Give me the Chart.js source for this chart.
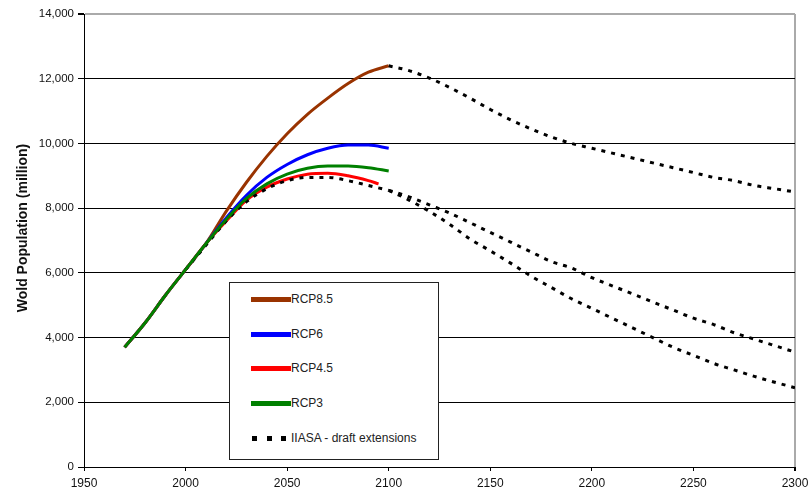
<!DOCTYPE html>
<html>
<head>
<meta charset="utf-8">
<script src="https://cdn.jsdelivr.net/npm/chart.js@4.4.1/dist/chart.umd.min.js"></script>
<style>
  html, body { margin: 0; padding: 0; background: #fff; }
  #wrap { position: relative; width: 810px; height: 490px; }
  #c { position: absolute; left: 0; top: 0; }
  #legend { position: absolute; left: 229px; top: 282px; width: 210px; height: 178px;
            border: 1px solid #222; background: #fff; box-sizing: border-box;
            font-family: 'Liberation Sans', Arial, sans-serif; font-size: 12px; color: #222; }
  .row { position: absolute; left: 0; height: 14px; width: 100%; }
  .sw { position: absolute; left: 21px; width: 40px; height: 5px; top: 5px; }
  .lbl { position: absolute; left: 61px; top: 0; line-height: 14px; white-space: nowrap; }
  .sq { position: absolute; top: 5px; width: 5px; height: 5px; background: #000; }
</style>
</head>
<body>
<div id="wrap">
  <canvas id="c" width="810" height="490"></canvas>
  <div id="legend"></div>
</div>
<script>
// ---- data ----
const rcpYears   = [1970, 1980, 1990, 2000, 2010, 2020, 2030, 2040, 2050, 2060, 2070, 2080, 2090, 2100];
const rcp85      = [3700, 4450, 5300, 6100, 6900, 7900, 8800, 9600, 10300, 10900, 11400, 11850, 12200, 12400];
const rcp6       = [3700, 4450, 5300, 6100, 6900, 7700, 8400, 8950, 9350, 9650, 9850, 9950, 9950, 9850];
const rcp3       = [3700, 4450, 5300, 6100, 6900, 7650, 8300, 8750, 9050, 9230, 9300, 9300, 9250, 9150];
const rcp45Years = [1970, 1980, 1990, 2000, 2010, 2020, 2030, 2040, 2050, 2060, 2070, 2080, 2090, 2095];
const rcp45      = [3700, 4450, 5300, 6100, 6900, 7600, 8250, 8650, 8900, 9050, 9080, 9000, 8850, 8750];

const iiasaBaseYears = [2000, 2010, 2020, 2030, 2040, 2050, 2060, 2070, 2080, 2090, 2100];
const iiasaBase      = [6100, 6850, 7600, 8200, 8600, 8850, 8950, 8950, 8850, 8700, 8550];

const extYears  = [2100, 2110, 2120, 2130, 2140, 2150, 2160, 2170, 2180, 2190, 2200,
                   2210, 2220, 2230, 2240, 2250, 2260, 2270, 2280, 2290, 2300];
const iiasaHigh = [12400, 12250, 12020, 11730, 11400, 11050, 10730, 10450, 10200, 10000, 9850,
                   9700, 9550, 9400, 9250, 9100, 8950, 8850, 8700, 8600, 8500];
const iiasaMid  = [8550, 8350, 8100, 7850, 7550, 7250, 6950, 6650, 6350, 6150, 5850,
                   5600, 5350, 5100, 4850, 4600, 4400, 4150, 3950, 3750, 3550];
const iiasaLow  = [8550, 8250, 7900, 7500, 7050, 6680, 6300, 5900, 5550, 5200, 4900,
                   4600, 4300, 4000, 3700, 3450, 3200, 3000, 2800, 2620, 2450];

const xTicks = [1950, 2000, 2050, 2100, 2150, 2200, 2250, 2300];
const yTicks = [0, 2000, 4000, 6000, 8000, 10000, 12000, 14000];
const yTitle = 'Wold Population (million)';

const legendItems = [
  { label: 'RCP8.5', color: '#993300' },
  { label: 'RCP6',   color: '#0000FF' },
  { label: 'RCP4.5', color: '#FF0000' },
  { label: 'RCP3',   color: '#008000' },
  { label: 'IIASA - draft extensions', color: '#000', dotted: true }
];

// ---- build ----
const pts = (xs, ys) => xs.map((x, i) => ({ x: x, y: ys[i] }));
const FONT = "'Liberation Sans', Arial, sans-serif";

function solid(label, xs, ys, color, order) {
  return { label, data: pts(xs, ys), borderColor: color, backgroundColor: color,
           borderWidth: 3, pointRadius: 0, cubicInterpolationMode: 'monotone', fill: false, order };
}
function dotted(label, xs, ys) {
  return { label, data: pts(xs, ys), borderColor: '#000', backgroundColor: '#000',
           borderWidth: 3, borderDash: [4, 6], borderCapStyle: 'butt', pointRadius: 0,
           cubicInterpolationMode: 'monotone', fill: false, order: 1 };
}

const datasets = [
  solid('RCP8.5', rcpYears, rcp85, '#993300', 4),
  solid('RCP6', rcpYears, rcp6, '#0000FF', 3),
  solid('RCP4.5', rcp45Years, rcp45, '#FF0000', 2),
  solid('RCP3', rcpYears, rcp3, '#008000', 0),
  dotted('IIASA - draft extensions', iiasaBaseYears, iiasaBase),
  dotted('IIASA high', extYears, iiasaHigh),
  dotted('IIASA mid', extYears, iiasaMid),
  dotted('IIASA low', extYears, iiasaLow)
];

// y-axis title drawn at the reference position
const yTitlePlugin = {
  id: 'yTitle',
  afterDraw(chart) {
    const ctx = chart.ctx;
    ctx.save();
    ctx.translate(23, 228);
    ctx.rotate(-Math.PI / 2);
    ctx.font = 'bold 14px ' + FONT;
    ctx.fillStyle = '#111';
    ctx.textAlign = 'center';
    ctx.textBaseline = 'middle';
    ctx.fillText(yTitle, 0, 0);
    ctx.restore();
  }
};

new Chart(document.getElementById('c'), {
  type: 'line',
  data: { datasets },
  plugins: [yTitlePlugin],
  options: {
    responsive: false,
    animation: false,
    layout: { padding: { left: 0, right: 15, top: 14, bottom: 0 } },
    plugins: { legend: { display: false }, tooltip: { enabled: false } },
    scales: {
      x: {
        type: 'linear', min: 1950, max: 2300,
        afterBuildTicks: s => { s.ticks = xTicks.map(v => ({ value: v })); },
        afterFit: s => { s.height = 23; s.paddingRight = 0; s.paddingLeft = 0; },
        ticks: { callback: v => String(v), color: '#111', padding: 5.5, maxRotation: 0,
                 font: { family: FONT, size: 12 } },
        grid: {
          color: c => (c.tick && c.tick.value === 2300) ? '#aaaaaa' : 'rgba(0,0,0,0)',
          lineWidth: c => (c.tick && c.tick.value === 2300) ? 2 : 1,
          tickColor: '#000', tickLength: 4, drawTicks: true
        },
        border: { color: '#000', width: 1 }
      },
      y: {
        min: 0, max: 14000,
        afterBuildTicks: s => { s.ticks = yTicks.map(v => ({ value: v })); },
        afterFit: s => { s.width = 84; s.paddingTop = 0; s.paddingBottom = 0; },
        ticks: { callback: v => v.toLocaleString('en-US'), color: '#111', padding: 4,
                 font: { family: FONT, size: 11.5 } },
        grid: {
          color: c => (c.tick && c.tick.value === 14000) ? '#aaaaaa' : '#000',
          lineWidth: c => (c.tick && c.tick.value === 14000) ? 2 : 1,
          tickColor: '#000', tickLength: 6, drawTicks: true
        },
        border: { color: '#000', width: 1 },
        title: { display: false }
      }
    }
  }
});

// ---- HTML legend ----
const rowTops = [9, 44, 78, 113, 148];
const leg = document.getElementById('legend');
legendItems.forEach((it, i) => {
  const row = document.createElement('div');
  row.className = 'row';
  row.style.top = rowTops[i] + 'px';
  if (it.dotted) {
    [22, 37, 51].forEach(l => {
      const q = document.createElement('div');
      q.className = 'sq'; q.style.left = l + 'px';
      row.appendChild(q);
    });
  } else {
    const sw = document.createElement('div');
    sw.className = 'sw'; sw.style.background = it.color;
    row.appendChild(sw);
  }
  const t = document.createElement('div');
  t.className = 'lbl'; t.textContent = it.label;
  row.appendChild(t);
  leg.appendChild(row);
});
</script>
</body>
</html>
